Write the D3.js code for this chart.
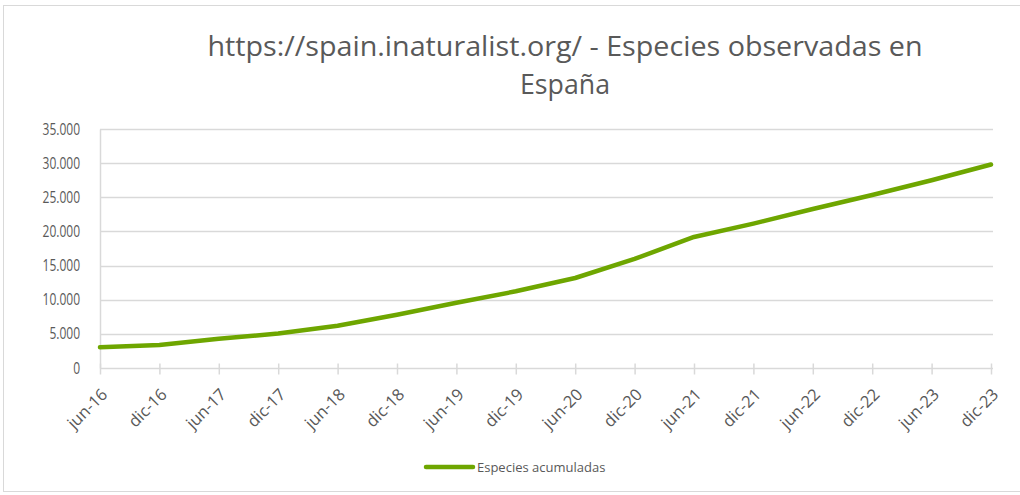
<!DOCTYPE html>
<html>
<head>
<meta charset="utf-8">
<script src="https://cdn.jsdelivr.net/npm/d3@7"></script>
<style>
  body { margin: 0; background: #fff; }
  svg text { font-family: "Open Sans", sans-serif; fill: #595959; }
</style>
</head>
<body>
<div id="chart"></div>
<script>
const periods = ["jun-16", "dic-16", "jun-17", "dic-17", "jun-18", "dic-18", "jun-19", "dic-19",
    "jun-20", "dic-20", "jun-21", "dic-21", "jun-22", "dic-22", "jun-23", "dic-23"];
const species = [3050, 3370, 4280, 5050, 6180, 7790, 9550, 11230,
    13180, 15970, 19190, 21140, 23290, 25340, 27490, 29800];
const yTicks = [0, 5000, 10000, 15000, 20000, 25000, 30000, 35000];
const seriesName = "Especies acumuladas";
const titleLines = ["https://spain.inaturalist.org/ - Especies observadas en", "España"];

const W = 1020, H = 495;
const green = "#6ea600";
const grid = "#d9d9d9";

const svg = d3.select("#chart").append("svg")
    .attr("width", W)
    .attr("height", H);

// chart border
svg.append("rect")
    .attr("x", 3.5).attr("y", 5.5)
    .attr("width", W).attr("height", 486)
    .attr("fill", "none")
    .attr("stroke", grid);

const xScale = d3.scalePoint()
    .domain(periods)
    .range([100, 991]);

const yScale = d3.scaleLinear()
    .domain([0, 35000])
    .range([368, 129]);

const es = d3.formatLocale({ decimal: ",", thousands: ".", grouping: [3], currency: ["", "€"] });
const fmt = es.format(",");

// title (Calibri-like: tall and narrow)
const titleWidths = [715, 90];
svg.selectAll(".title")
    .data(titleLines)
    .enter()
    .append("text")
    .attr("class", "title")
    .attr("x", 565)
    .attr("y", (d, i) => 56 + i * 38)
    .attr("text-anchor", "middle")
    .style("font-size", "28px")
    .attr("textLength", (d, i) => titleWidths[i])
    .attr("lengthAdjust", "spacingAndGlyphs")
    .text(d => d);

// gridlines
svg.append("g")
    .selectAll("line")
    .data(yTicks.filter(d => d > 0))
    .enter()
    .append("line")
    .attr("x1", 100).attr("x2", 993)
    .attr("y1", d => Math.round(yScale(d)) + 0.5)
    .attr("y2", d => Math.round(yScale(d)) + 0.5)
    .attr("stroke", grid)
    .attr("stroke-width", 1.5);

// y axis
const sx = 0.75;
const yAxis = svg.append("g")
    .attr("transform", "translate(100,0)")
    .call(d3.axisLeft(yScale).tickValues(yTicks).tickFormat(fmt).tickSize(0).tickPadding(20));
yAxis.select(".domain").attr("stroke", grid).attr("stroke-width", 1.5);
yAxis.selectAll("text")
    .style("font-size", "16px")
    .attr("fill", "#595959")
    .attr("x", -20 / sx)
    .attr("transform", `scale(${sx},1)`);

// x axis
const xAxis = svg.append("g")
    .attr("transform", "translate(0,368.5)")
    .call(d3.axisBottom(xScale).tickSize(6).tickSizeOuter(0));
xAxis.select(".domain").attr("stroke", grid).attr("stroke-width", 1.5).attr("d", "M100,0H993");
xAxis.selectAll(".tick line").attr("stroke", grid).attr("stroke-width", 1.5).attr("y1", -5);
xAxis.selectAll(".tick text")
    .style("font-size", "16.5px")
    .attr("fill", "#595959")
    .attr("text-anchor", "end")
    .attr("dx", 0)
    .attr("dy", 0)
    .attr("y", 0)
    .attr("transform", "translate(8,27) rotate(-45)");

// line
const line = d3.line()
    .x((d, i) => xScale(periods[i]))
    .y(d => yScale(d));

svg.append("path")
    .datum(species)
    .attr("fill", "none")
    .attr("stroke", green)
    .attr("stroke-width", 4.5)
    .attr("stroke-linecap", "round")
    .attr("stroke-linejoin", "round")
    .attr("d", line);

// legend
const legend = svg.append("g").attr("transform", "translate(426,467)");
legend.append("line")
    .attr("x1", 0).attr("x2", 47)
    .attr("stroke", green)
    .attr("stroke-width", 4.5)
    .attr("stroke-linecap", "round");
legend.append("text")
    .attr("x", 51)
    .attr("y", 4.5)
    .style("font-size", "13px")
    .text(seriesName);
</script>
</body>
</html>
